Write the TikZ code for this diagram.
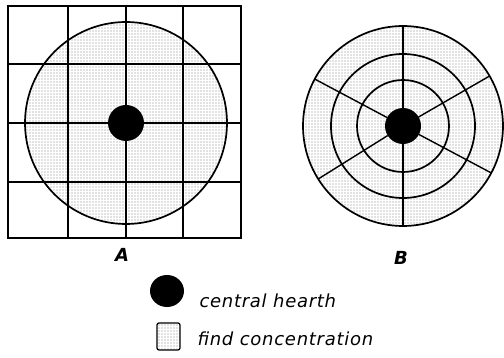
\documentclass[tikz,border=0pt]{standalone}
\usepackage{fontspec}
\setmainfont{DejaVu Sans}
\usetikzlibrary{patterns.meta,calc}
\begin{document}
\begin{tikzpicture}[x=1pt,y=-1pt,
  stip/.style={pattern={Dots[distance=3pt,radius=0.55pt]},pattern color=black!50},
  gridline/.style={line width=1.4pt},
  ringline/.style={line width=1.7pt},
  hearth/.style={fill=black},
  panellabel/.style={font=\fontsize{18}{18}\selectfont\bfseries\itshape},
  legendtext/.style={font=\fontsize{18}{18}\selectfont\itshape\addfontfeature{LetterSpace=4},anchor=west}]
\useasboundingbox (0,0) rectangle (504,358);
% ---- A ----
\fill[stip] (126,123) circle[radius=101];
\draw[ringline] (126,123) circle[radius=101];
\foreach \x in {68,126,183} \draw[gridline] (\x,6) -- (\x,238);
\foreach \y in {64,123,182} \draw[gridline] (8,\y) -- (241,\y);
\draw[gridline] (8,6) rectangle (241,238);
\fill[hearth] (126,123) circle[radius=18];
\node[panellabel] (labA) at (122,255) {A};
% ---- B ----
\coordinate (cB) at (403,126);
\fill[stip] (cB) circle[radius=100];
\draw[ringline] (cB) circle[radius=100];
\draw[ringline] (cB) circle[radius=72];
\draw[ringline] (cB) circle[radius=46];
\foreach \a in {28,90,148,208,270,330}
  \draw[gridline] ($(cB)+(\a:18)$) -- ($(cB)+(\a:100)$);
\fill[hearth] (cB) circle[radius=18];
\node[panellabel] (labB) at (401,258) {B};
% ---- legend ----
\fill[hearth] (167,291) ellipse[x radius=17,y radius=16];
\node[legendtext] (t1) at (196,301) {central hearth};
\draw[line width=1.2pt,rounded corners=2pt,stip] (157,323) rectangle (180,350);
\node[legendtext] (t2) at (194,339) {find concentration};
\end{tikzpicture}
\end{document}
